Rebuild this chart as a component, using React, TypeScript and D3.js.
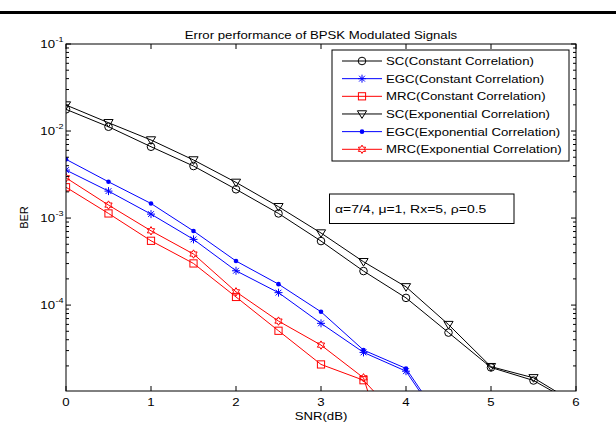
import React from "react";
import * as d3 from "d3";

const snr = [0, 0.5, 1, 1.5, 2, 2.5, 3, 3.5, 4, 4.5, 5, 5.5, 6];
const scConst = [0.01775, 0.0112, 0.0066, 0.00396, 0.00214, 0.00113, 0.000544, 0.000246, 0.000121, 4.83e-5, 1.92e-5, 1.36e-5, 7.2e-6];
const egcConst = [0.00356, 0.00204, 0.00111, 0.000569, 0.000248, 0.000139, 6.17e-5, 2.86e-5, 1.74e-5, 3.3e-6];
const mrcConst = [0.00226, 0.00113, 0.000548, 0.000301, 0.000124, 5.07e-5, 2.08e-5, 1.37e-5, 4.1e-6];
const scExp = [0.0199, 0.01245, 0.00789, 0.00465, 0.00257, 0.00135, 0.000673, 0.000315, 0.000162, 5.97e-5, 1.96e-5, 1.46e-5, 7.4e-6];
const egcExp = [0.00473, 0.00261, 0.00147, 0.00071, 0.000321, 0.000174, 8.37e-5, 3.04e-5, 1.87e-5, 3.56e-6];
const mrcExp = [0.0029, 0.00141, 0.000714, 0.000386, 0.000142, 6.55e-5, 3.47e-5, 1.46e-5, 4.3e-7];

const seriesNames = [
  "SC(Constant Correlation)",
  "EGC(Constant Correlation)",
  "MRC(Constant Correlation)",
  "SC(Exponential Correlation)",
  "EGC(Exponential Correlation)",
  "MRC(Exponential Correlation)",
];
const seriesValues = [scConst, egcConst, mrcConst, scExp, egcExp, mrcExp];
const seriesColors = ["#000000", "#0000ff", "#ff0000", "#000000", "#0000ff", "#ff0000"];
const seriesMarkers = ["circle", "asterisk", "square", "triangle", "dot", "hexagram"];

const xTicks = [0, 1, 2, 3, 4, 5, 6];
const yDecades = [1e-1, 1e-2, 1e-3, 1e-4];
const yDecadeExps = ["-1", "-2", "-3", "-4"];

const title = "Error performance of BPSK Modulated Signals";
const xLabel = "SNR(dB)";
const yLabel = "BER";
const note = "\u03b1=7/4, \u03bc=1, Rx=5, \u03c1=0.5";

const FONT = "'Liberation Sans', Arial, Helvetica, sans-serif";
const SX = 1.2;

function hexagramPath(ro: number, ri: number) {
  const pts: string[] = [];
  for (let i = 0; i < 12; i++) {
    const a = -Math.PI / 2 + (i * Math.PI) / 6;
    const r = i % 2 === 0 ? ro : ri;
    pts.push(`${(r * Math.cos(a)).toFixed(2)},${(r * Math.sin(a)).toFixed(2)}`);
  }
  return "M" + pts.join("L") + "Z";
}

function Marker({ type, x, y, color }: { type: string; x: number; y: number; color: string }) {
  const t = `translate(${x},${y})`;
  switch (type) {
    case "circle":
      return <circle transform={t} r={3.8} fill="none" stroke={color} strokeWidth={1} />;
    case "square":
      return <rect transform={t} x={-3.6} y={-3.6} width={7.2} height={7.2} fill="none" stroke={color} strokeWidth={1} />;
    case "triangle":
      return <path transform={t} d="M-4.6,-3.2L4.6,-3.2L0,4.4Z" fill="none" stroke={color} strokeWidth={1} />;
    case "dot":
      return <circle transform={t} r={2.3} fill={color} stroke="none" />;
    case "asterisk":
      return (
        <path
          transform={t}
          d="M-4,0L4,0M0,-4L0,4M-2.9,-2.9L2.9,2.9M-2.9,2.9L2.9,-2.9"
          fill="none"
          stroke={color}
          strokeWidth={1}
        />
      );
    case "hexagram":
      return <path transform={t} d={hexagramPath(4.2, 2.4)} fill="none" stroke={color} strokeWidth={1} />;
    default:
      return null;
  }
}

function SText({ x, y, anchor = "start", size = 11, sx = SX, children }: any) {
  return (
    <text
      transform={`translate(${x},${y}) scale(${sx},1)`}
      textAnchor={anchor}
      fontFamily={FONT}
      fontSize={size}
      fill="#000"
    >
      {children}
    </text>
  );
}

export default function App() {
  const left = 66, right = 576, top = 44, bottom = 391;
  const x = d3.scaleLinear().domain([0, 6]).range([left, right]);
  const y = d3.scaleLog().domain([1.03e-5, 0.1]).range([bottom, top]);
  const line = d3
    .line<number>()
    .x((_, i) => x(snr[i]))
    .y((d) => y(d));

  const minorTicks: number[] = [];
  for (let e = -5; e <= -2; e++) {
    for (let k = 2; k <= 9; k++) {
      const v = k * Math.pow(10, e);
      if (v > 1.03e-5 && v < 0.1) minorTicks.push(v);
    }
  }
  const tl = 4;

  const legX = 332, legY = 50, legW = 237, legH = 111;
  const rowY = (i: number) => 61 + i * 17.66;

  return (
    <svg width={616} height={424} style={{ position: "absolute", left: 0, top: 0, background: "#fff" }}>
      <rect x={0} y={0} width={616} height={424} fill="#fff" />
      <rect x={0} y={11} width={616} height={3} fill="#000" />
      <defs>
        <clipPath id="plotClip">
          <rect x={left} y={top} width={right - left} height={bottom - top} />
        </clipPath>
      </defs>

      <SText x={(left + right) / 2} y={39} anchor="middle">{title}</SText>

      {/* series */}
      <g clipPath="url(#plotClip)">
        {seriesValues.map((vals, si) => (
          <g key={si}>
            <path d={line(vals) || ""} fill="none" stroke={seriesColors[si]} strokeWidth={1} />
            {vals.map((v, i) =>
              v >= 1.03e-5 ? (
                <Marker key={i} type={seriesMarkers[si]} x={x(snr[i])} y={y(v)} color={seriesColors[si]} />
              ) : null
            )}
          </g>
        ))}
      </g>

      {/* axes box */}
      <rect x={left} y={top} width={right - left} height={bottom - top} fill="none" stroke="#000" strokeWidth={1} />

      {/* x ticks */}
      {xTicks.map((t) => (
        <g key={"x" + t}>
          <line x1={x(t)} x2={x(t)} y1={bottom} y2={bottom - 5} stroke="#000" />
          <line x1={x(t)} x2={x(t)} y1={top} y2={top + 5} stroke="#000" />
          <SText x={x(t)} y={406} anchor="middle">{String(t)}</SText>
        </g>
      ))}

      {/* y ticks */}
      {yDecades.map((v, i) => (
        <g key={"y" + i}>
          <line x1={left} x2={left + 5} y1={y(v)} y2={y(v)} stroke="#000" />
          <line x1={right} x2={right - 5} y1={y(v)} y2={y(v)} stroke="#000" />
          <SText x={55} y={y(v) + 4} anchor="end">10</SText>
          <SText x={55.5} y={y(v) - 2} anchor="start" size={7.5}>{yDecadeExps[i]}</SText>
        </g>
      ))}
      {minorTicks.map((v, i) => (
        <g key={"m" + i}>
          <line x1={left} x2={left + tl - 1} y1={y(v)} y2={y(v)} stroke="#000" />
          <line x1={right} x2={right - tl + 1} y1={y(v)} y2={y(v)} stroke="#000" />
        </g>
      ))}

      <SText x={(left + right) / 2} y={420} anchor="middle">{xLabel}</SText>
      <text
        transform={`translate(28,${(top + bottom) / 2}) rotate(-90)`}
        textAnchor="middle"
        fontFamily={FONT}
        fontSize={11}
      >
        {yLabel}
      </text>

      {/* legend */}
      <rect x={legX} y={legY} width={legW} height={legH} fill="#fff" stroke="#000" strokeWidth={1} />
      {seriesNames.map((name, i) => (
        <g key={"l" + i}>
          <line x1={342} x2={382} y1={rowY(i)} y2={rowY(i)} stroke={seriesColors[i]} strokeWidth={1} />
          <Marker type={seriesMarkers[i]} x={362} y={rowY(i)} color={seriesColors[i]} />
          <SText x={386} y={rowY(i) + 4}>{name}</SText>
        </g>
      ))}

      {/* annotation */}
      <rect x={329.5} y={194} width={184.5} height={29.5} fill="#fff" stroke="#000" strokeWidth={1} />
      <SText x={335} y={212.5} sx={1.27}>{note}</SText>
    </svg>
  );
}
